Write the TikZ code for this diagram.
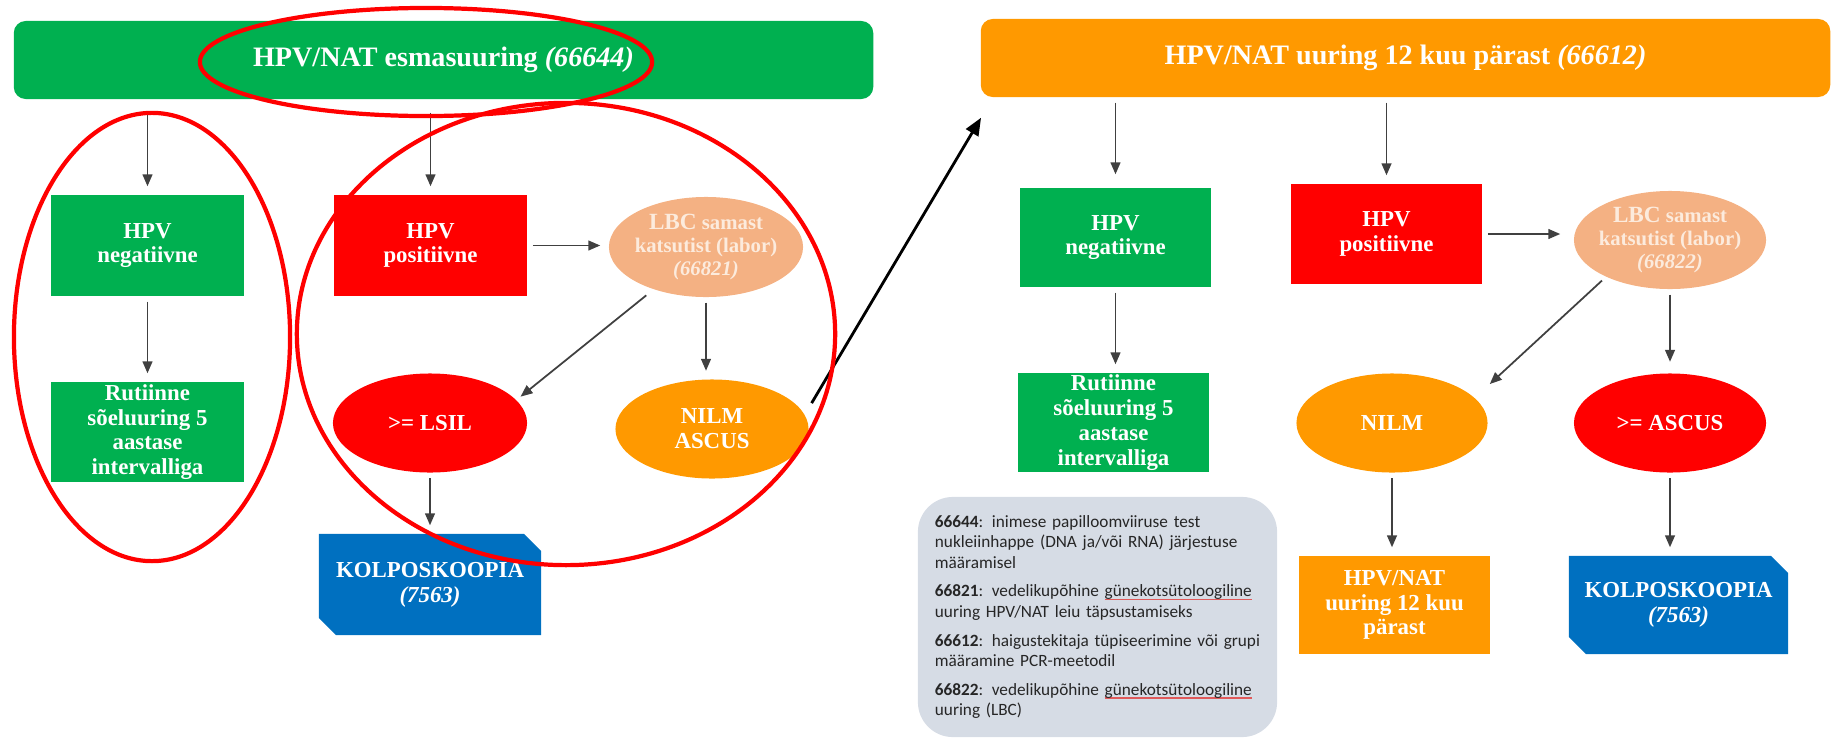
\documentclass[tikz,border=0pt]{standalone}
\usepackage{fontspec}
\setmainfont{Liberation Serif}
\newfontfamily\legendfont{Carlito}
\usepackage{tikz}
\usetikzlibrary{shapes.geometric}
\usetikzlibrary{arrows.meta}
\usetikzlibrary{calc}
\definecolor{hpvgreen}{HTML}{00B050}
\definecolor{hpvred}{HTML}{FF0000}
\definecolor{hpvorange}{HTML}{FF9900}
\definecolor{lbcsalmon}{HTML}{F4B183}
\definecolor{lbctext}{HTML}{FCEBDD}
\definecolor{kolpblue}{HTML}{0070C0}
\definecolor{legendgray}{HTML}{D6DCE5}
\definecolor{legendtext}{HTML}{262626}
\definecolor{arrowgray}{HTML}{404040}
\definecolor{squigred}{HTML}{E05A5A}

\newcommand{\barfont}{\fontsize{8}{9.6}\selectfont\bfseries}
\newcommand{\boxfont}{\fontsize{6.5}{7.05}\selectfont\bfseries}
\newcommand{\lbcfont}{\fontsize{5.9}{6.5}\selectfont\bfseries}
\newcommand{\bigLBC}{{\fontsize{6.6}{6.5}\selectfont LBC}}
\newsavebox{\spellbox}
\newcommand{\spellmark}[1]{\sbox{\spellbox}{#1}\rlap{\color{squigred}\rule[-0.9pt]{\wd\spellbox}{0.3pt}}\usebox{\spellbox}}

\def\cutsize{0.17cm}

\tikzset{
  hpvbar/.style={rectangle, rounded corners=0.12cm, inner sep=0pt, minimum height=0.78cm, text=white, font=\barfont},
  hpvbox/.style={rectangle, inner sep=0pt, minimum width=1.92cm, minimum height=1cm, text=white, font=\boxfont, align=center},
  hpvoval/.style={ellipse, inner sep=-0.1cm, minimum width=1.93cm, minimum height=0.99cm, text=white, font=\boxfont, align=center},
  cutbox/.style={hpvbox, path picture={
      \fill[kolpblue] (path picture bounding box.north west)
        -- ([xshift=-\cutsize]path picture bounding box.north east)
        -- ([yshift=-\cutsize]path picture bounding box.north east)
        -- (path picture bounding box.south east)
        -- ([xshift=\cutsize]path picture bounding box.south west)
        -- ([yshift=\cutsize]path picture bounding box.south west) -- cycle;}},
  flow/.style={draw=arrowgray, line width=0.5pt, -{Triangle[length=3.4pt,width=2.8pt]}, shorten <=0.05cm, shorten >=0.08cm},
  jump/.style={draw=black, line width=0.8pt, -{Triangle[length=5pt,width=4pt]}},
  ring/.style={draw=hpvred, line width=1.2pt}
}

\begin{document}
\begin{tikzpicture}[x=0.01cm, y=-0.01cm]
  \useasboundingbox (0,0) rectangle (1836,739);

  % first round
  \node[hpvbar, fill=hpvgreen, minimum width=8.59cm] (top1) at (443.5,60) {HPV/NAT esmasuuring \textit{(66644)}};
  \node[hpvbox, fill=hpvgreen, minimum width=1.93cm, minimum height=1.01cm] (neg1) at (147.5,245.5) {HPV\\negatiivne};
  \node[hpvbox, fill=hpvgreen, minimum width=1.93cm] (rout1) at (147.5,432) {Rutiinne\\sõeluuring 5\\aastase\\intervalliga};
  \node[hpvbox, fill=hpvred, minimum width=1.93cm, minimum height=1.01cm] (pos1) at (430.5,245.5) {HPV\\positiivne};
  \node[hpvoval, fill=lbcsalmon, text=lbctext, font=\lbcfont, minimum width=1.94cm, minimum height=1cm] (lbc1) at (706,247) {\bigLBC{} samast\\katsutist (labor)\\\textit{(66821)}};
  \node[hpvoval, fill=hpvred, minimum width=1.94cm] (lsil) at (430,423) {>= LSIL};
  \node[hpvoval, fill=hpvorange] (nilmascus) at (712,429) {NILM\\ASCUS};
  \node[cutbox, minimum width=2.22cm, minimum height=1.01cm] (kolpo1) at (430,584.5) {KOLPOSKOOPIA\\\textit{(7563)}};

  % retest after 12 months
  \node[hpvbar, fill=hpvorange, minimum width=8.49cm] (top2) at (1405.5,58) {HPV/NAT uuring 12 kuu pärast \textit{(66612)}};
  \node[hpvbox, fill=hpvgreen, minimum width=1.91cm, minimum height=0.99cm] (neg2) at (1115.5,237.5) {HPV\\negatiivne};
  \node[hpvbox, fill=hpvgreen, minimum width=1.91cm, minimum height=0.99cm] (rout2) at (1113.5,422.5) {Rutiinne\\sõeluuring 5\\aastase\\intervalliga};
  \node[hpvbox, fill=hpvred, minimum width=1.91cm] (pos2) at (1386.5,234) {HPV\\positiivne};
  \node[hpvoval, fill=lbcsalmon, text=lbctext, font=\lbcfont, minimum width=1.92cm, minimum height=0.98cm] (lbc2) at (1670,240) {\bigLBC{} samast\\katsutist (labor)\\\textit{(66822)}};
  \node[hpvoval, fill=hpvorange, minimum width=1.91cm] (nilm2) at (1392,423) {NILM};
  \node[hpvoval, fill=hpvred, minimum width=1.92cm] (ascus) at (1670,423) {>= ASCUS};
  \node[hpvbox, fill=hpvorange, minimum width=1.91cm, minimum height=0.98cm] (retest) at (1394.5,605) {HPV/NAT\\uuring 12 kuu\\pärast};
  \node[cutbox, minimum width=2.19cm, minimum height=0.98cm] (kolpo2) at (1678.5,605) {KOLPOSKOOPIA\\\textit{(7563)}};

  \node[rectangle, rounded corners=0.35cm, fill=legendgray, text=legendtext, minimum height=2.4cm,
        inner xsep=0.17cm, inner ysep=0pt, text width=3.25cm, align=left,
        font=\legendfont\fontsize{4.9}{5.8}\selectfont] (legend) at (1097.5,617)
    {\textbf{66644}: inimese papilloomviiruse test\\
     nukleiinhappe (DNA ja/või RNA) järjestuse\\
     määramisel\\[2.4pt]
     \textbf{66821}: vedelikupõhine \spellmark{günekotsütoloogiline}\\
     uuring HPV/NAT leiu täpsustamiseks\\[2.4pt]
     \textbf{66612}: haigustekitaja tüpiseerimine või grupi\\
     määramine PCR-meetodil\\[2.4pt]
     \textbf{66822}: vedelikupõhine \spellmark{günekotsütoloogiline}\\
     uuring (LBC)};

  \draw[flow, shorten <=0.13cm] (top1.south -| neg1.north) -- (neg1.north);
  \draw[flow] (neg1.south) -- (rout1.north);
  \draw[flow, shorten <=0.13cm] (top1.south -| pos1.north) -- (pos1.north);
  \draw[flow] (pos1.east) -- (pos1.east -| lbc1.west);
  \draw[flow] (lbc1.south) -- (lbc1.south |- nilmascus.north);
  \draw[flow, shorten <=0.09cm, shorten >=0.05cm] (lbc1.-141) -- (lsil.15);
  \draw[flow] (lsil.south) -- (kolpo1.north);

  \draw[flow, shorten >=0.13cm] (top2.south -| neg2.north) -- (neg2.north);
  \draw[flow] (neg2.south) -- (neg2.south |- rout2.north);
  \draw[flow] (top2.south -| pos2.north) -- (pos2.north);
  \draw[flow, shorten >=0.13cm] (pos2.east) -- (pos2.east -| lbc2.west);
  \draw[flow, shorten >=0.11cm] (lbc2.south) -- (ascus.north);
  \draw[flow, shorten >=0.2cm] (lbc2.-150) -- (nilm2.17);
  \draw[flow] (nilm2.south) -- (nilm2.south |- retest.north);
  \draw[flow] (ascus.south) -- (ascus.south |- kolpo2.north);

  \coordinate (jumpend) at ($(top2.south west)+(1,20)$);
  \draw[jump, shorten <=0.13cm] (nilmascus.9) -- (jumpend);

  \coordinate (titlering) at (426,62);
  \coordinate (negring) at (152,337);
  \coordinate (posring) at (566,334);
  \draw[ring] (titlering) ellipse [x radius=2.26cm, y radius=0.54cm];
  \draw[ring] (negring) ellipse [x radius=1.38cm, y radius=2.24cm];
  \draw[ring] (posring) ellipse [x radius=2.69cm, y radius=2.31cm];
\end{tikzpicture}
\end{document}
